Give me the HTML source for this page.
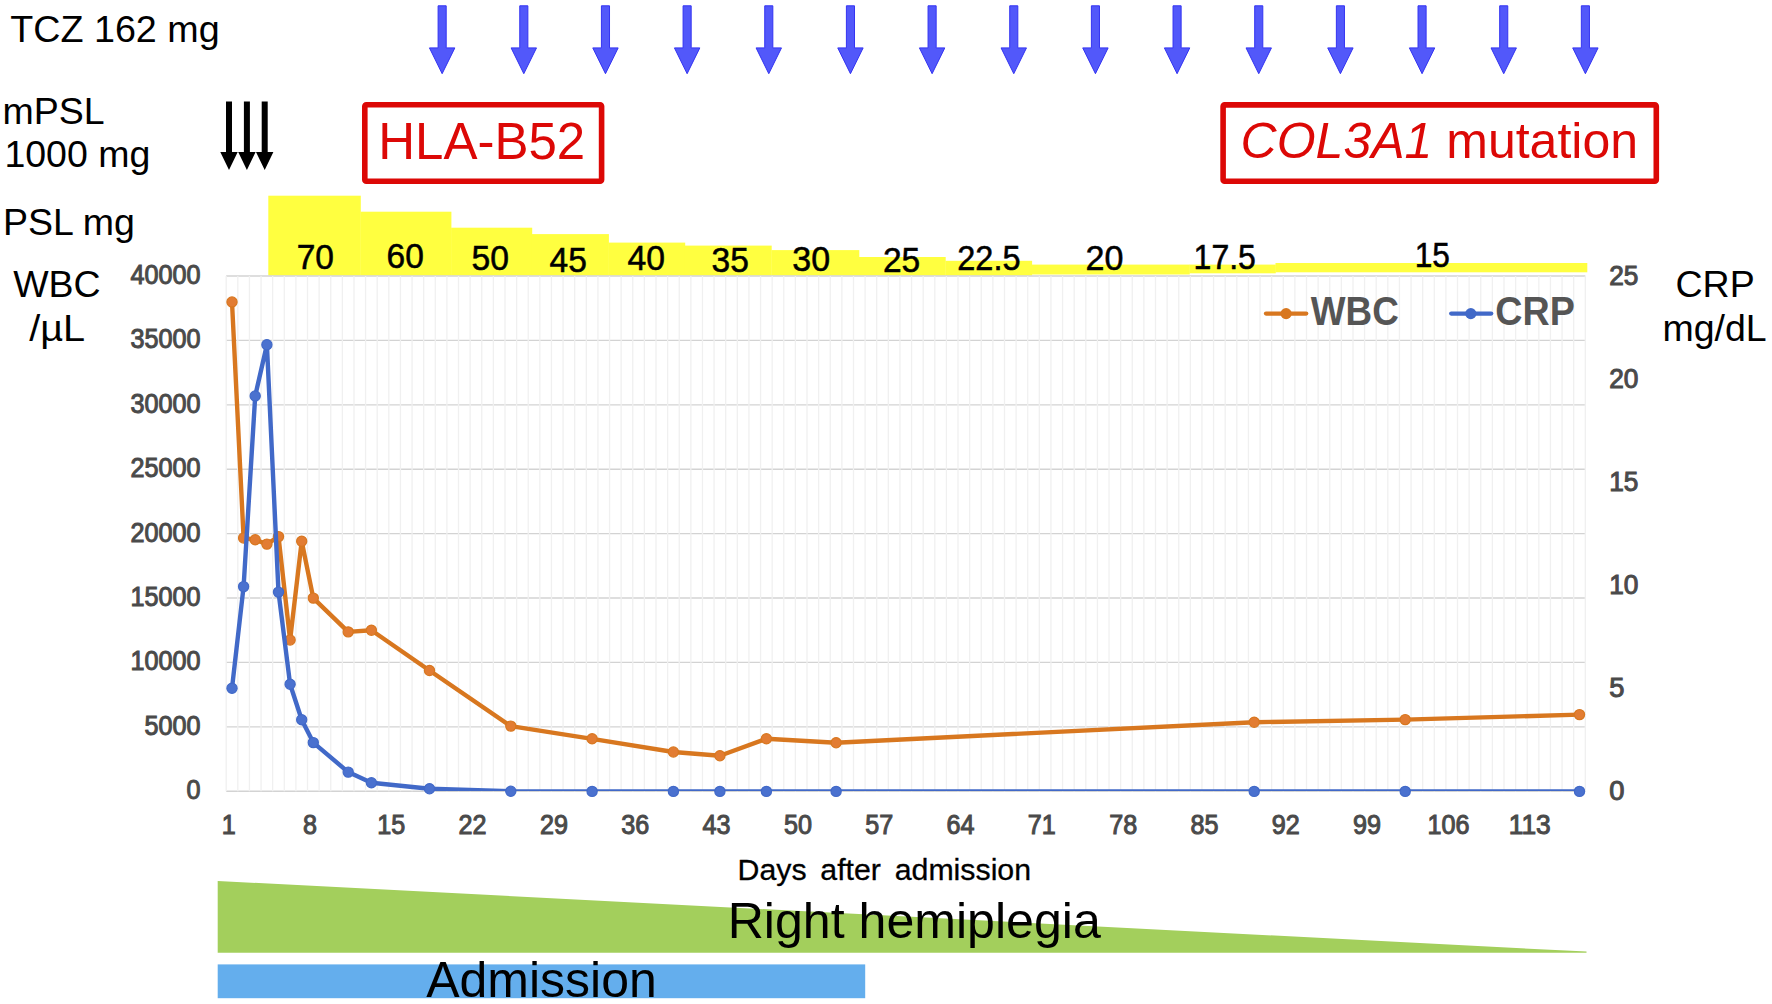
<!DOCTYPE html>
<html lang="en"><head><meta charset="utf-8"><title>Clinical course</title>
<style>html,body{margin:0;padding:0;background:#fff}body{width:1772px;height:1004px;overflow:hidden}svg{display:block}text{font-family:"Liberation Sans","Noto Sans CJK JP",sans-serif}.h{fill:#000}.tick{fill:#4a4a4a;stroke:#4a4a4a;stroke-width:1.05px;font-size:27px}.psl{fill:#000;font-size:35.2px;stroke:#000;stroke-width:.55px}.red{fill:#dc0806}</style></head><body>
<svg width="1772" height="1004" viewBox="0 0 1772 1004">
<rect width="1772" height="1004" fill="#fff"/>
<g fill="#5258fa" stroke="#3434f2" stroke-width="1" stroke-linejoin="miter">
<path d="M438.10 5.8H446.20V47.9H454.85L442.15 73.7L429.45 47.9H438.10Z"/>
<path d="M519.76 5.8H527.86V47.9H536.51L523.81 73.7L511.11 47.9H519.76Z"/>
<path d="M601.42 5.8H609.52V47.9H618.17L605.47 73.7L592.77 47.9H601.42Z"/>
<path d="M683.08 5.8H691.18V47.9H699.83L687.13 73.7L674.43 47.9H683.08Z"/>
<path d="M764.74 5.8H772.84V47.9H781.49L768.79 73.7L756.09 47.9H764.74Z"/>
<path d="M846.40 5.8H854.50V47.9H863.15L850.45 73.7L837.75 47.9H846.40Z"/>
<path d="M928.06 5.8H936.16V47.9H944.81L932.11 73.7L919.41 47.9H928.06Z"/>
<path d="M1009.72 5.8H1017.82V47.9H1026.47L1013.77 73.7L1001.07 47.9H1009.72Z"/>
<path d="M1091.38 5.8H1099.48V47.9H1108.13L1095.43 73.7L1082.73 47.9H1091.38Z"/>
<path d="M1173.04 5.8H1181.14V47.9H1189.79L1177.09 73.7L1164.39 47.9H1173.04Z"/>
<path d="M1254.70 5.8H1262.80V47.9H1271.45L1258.75 73.7L1246.05 47.9H1254.70Z"/>
<path d="M1336.36 5.8H1344.46V47.9H1353.11L1340.41 73.7L1327.71 47.9H1336.36Z"/>
<path d="M1418.02 5.8H1426.12V47.9H1434.77L1422.07 73.7L1409.37 47.9H1418.02Z"/>
<path d="M1499.68 5.8H1507.78V47.9H1516.43L1503.73 73.7L1491.03 47.9H1499.68Z"/>
<path d="M1581.34 5.8H1589.44V47.9H1598.09L1585.39 73.7L1572.69 47.9H1581.34Z"/>
</g>
<g fill="#000">
<path d="M226.0 101.4H232.0V152.1H237.7L229.0 170.1L220.3 152.1H226.0Z"/>
<path d="M243.9 101.4H249.9V152.1H255.6L246.9 170.1L238.2 152.1H243.9Z"/>
<path d="M261.7 101.4H267.7V152.1H273.4L264.7 170.1L256.0 152.1H261.7Z"/>
</g>
<text class="h" x="10.2" y="42" font-size="37.7">TCZ 162 mg</text>
<text class="h" x="2.6" y="123.9" font-size="37.5">mPSL</text>
<text class="h" x="4.4" y="167.3" font-size="37.5">1000 mg</text>
<text class="h" x="2.9" y="234.8" font-size="37.5">PSL mg</text>
<text class="h" x="13.2" y="297.4" font-size="37.5">WBC</text>
<text class="h" x="29.2" y="340.7" font-size="37.5" textLength="56" lengthAdjust="spacingAndGlyphs">/µL</text>
<text class="h" x="1675.5" y="297.3" font-size="37.5">CRP</text>
<text class="h" x="1662.4" y="340.7" font-size="37.5">mg/dL</text>
<rect x="364.8" y="104.8" width="236.8" height="76.4" rx="1.5" fill="none" stroke="#dc0806" stroke-width="5.6"/>
<text class="red" x="378.2" y="158.5" font-size="51">HLA-B52</text>
<rect x="1223.1" y="104.9" width="433.2" height="76.3" rx="1.5" fill="none" stroke="#dc0806" stroke-width="5.6"/>
<text class="red" x="1240.6" y="157.6" font-size="50"><tspan font-style="italic">COL3A1</tspan> mutation</text>
<g fill="#ffff40">
<rect x="268.3" y="195.7" width="92.5" height="79.9"/>
<rect x="360.5" y="211.7" width="90.9" height="63.9"/>
<rect x="451.1" y="227.7" width="81.1" height="47.9"/>
<rect x="531.9" y="234.1" width="77.0" height="41.5"/>
<rect x="608.6" y="242.6" width="76.6" height="33.0"/>
<rect x="684.9" y="245.6" width="86.8" height="30.0"/>
<rect x="771.4" y="250.1" width="87.9" height="25.5"/>
<rect x="859" y="257" width="86.7" height="18.6"/>
<rect x="945.4" y="260.8" width="86.7" height="14.8"/>
<rect x="1031.8" y="264.6" width="158.0" height="9.9"/>
<rect x="1189.5" y="264.6" width="86.3" height="8.7"/>
<rect x="1275.5" y="263" width="311.8" height="9.3"/>
</g>
<g stroke="#d3d3d3" stroke-width="1.35">
<line x1="226.2" y1="276.00" x2="1585.3" y2="276.00"/>
<line x1="226.2" y1="340.40" x2="1585.3" y2="340.40"/>
<line x1="226.2" y1="404.80" x2="1585.3" y2="404.80"/>
<line x1="226.2" y1="469.20" x2="1585.3" y2="469.20"/>
<line x1="226.2" y1="533.60" x2="1585.3" y2="533.60"/>
<line x1="226.2" y1="598.00" x2="1585.3" y2="598.00"/>
<line x1="226.2" y1="662.40" x2="1585.3" y2="662.40"/>
<line x1="226.2" y1="726.80" x2="1585.3" y2="726.80"/>
<line x1="226.2" y1="791.20" x2="1585.3" y2="791.20"/>
</g>
<g stroke="#f0f0f0" stroke-width="1.3">
<line x1="226.20" y1="276.0" x2="226.20" y2="791.2"/>
<line x1="237.82" y1="276.0" x2="237.82" y2="791.2"/>
<line x1="249.43" y1="276.0" x2="249.43" y2="791.2"/>
<line x1="261.05" y1="276.0" x2="261.05" y2="791.2"/>
<line x1="272.66" y1="276.0" x2="272.66" y2="791.2"/>
<line x1="284.28" y1="276.0" x2="284.28" y2="791.2"/>
<line x1="295.90" y1="276.0" x2="295.90" y2="791.2"/>
<line x1="307.51" y1="276.0" x2="307.51" y2="791.2"/>
<line x1="319.13" y1="276.0" x2="319.13" y2="791.2"/>
<line x1="330.75" y1="276.0" x2="330.75" y2="791.2"/>
<line x1="342.36" y1="276.0" x2="342.36" y2="791.2"/>
<line x1="353.98" y1="276.0" x2="353.98" y2="791.2"/>
<line x1="365.59" y1="276.0" x2="365.59" y2="791.2"/>
<line x1="377.21" y1="276.0" x2="377.21" y2="791.2"/>
<line x1="388.83" y1="276.0" x2="388.83" y2="791.2"/>
<line x1="400.44" y1="276.0" x2="400.44" y2="791.2"/>
<line x1="412.06" y1="276.0" x2="412.06" y2="791.2"/>
<line x1="423.68" y1="276.0" x2="423.68" y2="791.2"/>
<line x1="435.29" y1="276.0" x2="435.29" y2="791.2"/>
<line x1="446.91" y1="276.0" x2="446.91" y2="791.2"/>
<line x1="458.52" y1="276.0" x2="458.52" y2="791.2"/>
<line x1="470.14" y1="276.0" x2="470.14" y2="791.2"/>
<line x1="481.76" y1="276.0" x2="481.76" y2="791.2"/>
<line x1="493.37" y1="276.0" x2="493.37" y2="791.2"/>
<line x1="504.99" y1="276.0" x2="504.99" y2="791.2"/>
<line x1="516.61" y1="276.0" x2="516.61" y2="791.2"/>
<line x1="528.22" y1="276.0" x2="528.22" y2="791.2"/>
<line x1="539.84" y1="276.0" x2="539.84" y2="791.2"/>
<line x1="551.45" y1="276.0" x2="551.45" y2="791.2"/>
<line x1="563.07" y1="276.0" x2="563.07" y2="791.2"/>
<line x1="574.69" y1="276.0" x2="574.69" y2="791.2"/>
<line x1="586.30" y1="276.0" x2="586.30" y2="791.2"/>
<line x1="597.92" y1="276.0" x2="597.92" y2="791.2"/>
<line x1="609.54" y1="276.0" x2="609.54" y2="791.2"/>
<line x1="621.15" y1="276.0" x2="621.15" y2="791.2"/>
<line x1="632.77" y1="276.0" x2="632.77" y2="791.2"/>
<line x1="644.38" y1="276.0" x2="644.38" y2="791.2"/>
<line x1="656.00" y1="276.0" x2="656.00" y2="791.2"/>
<line x1="667.62" y1="276.0" x2="667.62" y2="791.2"/>
<line x1="679.23" y1="276.0" x2="679.23" y2="791.2"/>
<line x1="690.85" y1="276.0" x2="690.85" y2="791.2"/>
<line x1="702.47" y1="276.0" x2="702.47" y2="791.2"/>
<line x1="714.08" y1="276.0" x2="714.08" y2="791.2"/>
<line x1="725.70" y1="276.0" x2="725.70" y2="791.2"/>
<line x1="737.31" y1="276.0" x2="737.31" y2="791.2"/>
<line x1="748.93" y1="276.0" x2="748.93" y2="791.2"/>
<line x1="760.55" y1="276.0" x2="760.55" y2="791.2"/>
<line x1="772.16" y1="276.0" x2="772.16" y2="791.2"/>
<line x1="783.78" y1="276.0" x2="783.78" y2="791.2"/>
<line x1="795.40" y1="276.0" x2="795.40" y2="791.2"/>
<line x1="807.01" y1="276.0" x2="807.01" y2="791.2"/>
<line x1="818.63" y1="276.0" x2="818.63" y2="791.2"/>
<line x1="830.24" y1="276.0" x2="830.24" y2="791.2"/>
<line x1="841.86" y1="276.0" x2="841.86" y2="791.2"/>
<line x1="853.48" y1="276.0" x2="853.48" y2="791.2"/>
<line x1="865.09" y1="276.0" x2="865.09" y2="791.2"/>
<line x1="876.71" y1="276.0" x2="876.71" y2="791.2"/>
<line x1="888.33" y1="276.0" x2="888.33" y2="791.2"/>
<line x1="899.94" y1="276.0" x2="899.94" y2="791.2"/>
<line x1="911.56" y1="276.0" x2="911.56" y2="791.2"/>
<line x1="923.17" y1="276.0" x2="923.17" y2="791.2"/>
<line x1="934.79" y1="276.0" x2="934.79" y2="791.2"/>
<line x1="946.41" y1="276.0" x2="946.41" y2="791.2"/>
<line x1="958.02" y1="276.0" x2="958.02" y2="791.2"/>
<line x1="969.64" y1="276.0" x2="969.64" y2="791.2"/>
<line x1="981.26" y1="276.0" x2="981.26" y2="791.2"/>
<line x1="992.87" y1="276.0" x2="992.87" y2="791.2"/>
<line x1="1004.49" y1="276.0" x2="1004.49" y2="791.2"/>
<line x1="1016.10" y1="276.0" x2="1016.10" y2="791.2"/>
<line x1="1027.72" y1="276.0" x2="1027.72" y2="791.2"/>
<line x1="1039.34" y1="276.0" x2="1039.34" y2="791.2"/>
<line x1="1050.95" y1="276.0" x2="1050.95" y2="791.2"/>
<line x1="1062.57" y1="276.0" x2="1062.57" y2="791.2"/>
<line x1="1074.19" y1="276.0" x2="1074.19" y2="791.2"/>
<line x1="1085.80" y1="276.0" x2="1085.80" y2="791.2"/>
<line x1="1097.42" y1="276.0" x2="1097.42" y2="791.2"/>
<line x1="1109.03" y1="276.0" x2="1109.03" y2="791.2"/>
<line x1="1120.65" y1="276.0" x2="1120.65" y2="791.2"/>
<line x1="1132.27" y1="276.0" x2="1132.27" y2="791.2"/>
<line x1="1143.88" y1="276.0" x2="1143.88" y2="791.2"/>
<line x1="1155.50" y1="276.0" x2="1155.50" y2="791.2"/>
<line x1="1167.12" y1="276.0" x2="1167.12" y2="791.2"/>
<line x1="1178.73" y1="276.0" x2="1178.73" y2="791.2"/>
<line x1="1190.35" y1="276.0" x2="1190.35" y2="791.2"/>
<line x1="1201.96" y1="276.0" x2="1201.96" y2="791.2"/>
<line x1="1213.58" y1="276.0" x2="1213.58" y2="791.2"/>
<line x1="1225.20" y1="276.0" x2="1225.20" y2="791.2"/>
<line x1="1236.81" y1="276.0" x2="1236.81" y2="791.2"/>
<line x1="1248.43" y1="276.0" x2="1248.43" y2="791.2"/>
<line x1="1260.05" y1="276.0" x2="1260.05" y2="791.2"/>
<line x1="1271.66" y1="276.0" x2="1271.66" y2="791.2"/>
<line x1="1283.28" y1="276.0" x2="1283.28" y2="791.2"/>
<line x1="1294.89" y1="276.0" x2="1294.89" y2="791.2"/>
<line x1="1306.51" y1="276.0" x2="1306.51" y2="791.2"/>
<line x1="1318.13" y1="276.0" x2="1318.13" y2="791.2"/>
<line x1="1329.74" y1="276.0" x2="1329.74" y2="791.2"/>
<line x1="1341.36" y1="276.0" x2="1341.36" y2="791.2"/>
<line x1="1352.98" y1="276.0" x2="1352.98" y2="791.2"/>
<line x1="1364.59" y1="276.0" x2="1364.59" y2="791.2"/>
<line x1="1376.21" y1="276.0" x2="1376.21" y2="791.2"/>
<line x1="1387.82" y1="276.0" x2="1387.82" y2="791.2"/>
<line x1="1399.44" y1="276.0" x2="1399.44" y2="791.2"/>
<line x1="1411.06" y1="276.0" x2="1411.06" y2="791.2"/>
<line x1="1422.67" y1="276.0" x2="1422.67" y2="791.2"/>
<line x1="1434.29" y1="276.0" x2="1434.29" y2="791.2"/>
<line x1="1445.91" y1="276.0" x2="1445.91" y2="791.2"/>
<line x1="1457.52" y1="276.0" x2="1457.52" y2="791.2"/>
<line x1="1469.14" y1="276.0" x2="1469.14" y2="791.2"/>
<line x1="1480.75" y1="276.0" x2="1480.75" y2="791.2"/>
<line x1="1492.37" y1="276.0" x2="1492.37" y2="791.2"/>
<line x1="1503.99" y1="276.0" x2="1503.99" y2="791.2"/>
<line x1="1515.60" y1="276.0" x2="1515.60" y2="791.2"/>
<line x1="1527.22" y1="276.0" x2="1527.22" y2="791.2"/>
<line x1="1538.84" y1="276.0" x2="1538.84" y2="791.2"/>
<line x1="1550.45" y1="276.0" x2="1550.45" y2="791.2"/>
<line x1="1562.07" y1="276.0" x2="1562.07" y2="791.2"/>
<line x1="1573.68" y1="276.0" x2="1573.68" y2="791.2"/>
<line x1="1585.30" y1="276.0" x2="1585.30" y2="791.2"/>
</g>
<text class="psl" x="296.7" y="268.9" textLength="37.3" lengthAdjust="spacingAndGlyphs">70</text>
<text class="psl" x="386.5" y="267.5" textLength="37.3" lengthAdjust="spacingAndGlyphs">60</text>
<text class="psl" x="471.5" y="270.2" textLength="37.5" lengthAdjust="spacingAndGlyphs">50</text>
<text class="psl" x="549.5" y="272.2" textLength="37.3" lengthAdjust="spacingAndGlyphs">45</text>
<text class="psl" x="627.5" y="270.2" textLength="37.5" lengthAdjust="spacingAndGlyphs">40</text>
<text class="psl" x="711.5" y="272.2" textLength="37.3" lengthAdjust="spacingAndGlyphs">35</text>
<text class="psl" x="792.3" y="270.9" textLength="37.8" lengthAdjust="spacingAndGlyphs">30</text>
<text class="psl" x="882.9" y="272.2" textLength="37.3" lengthAdjust="spacingAndGlyphs">25</text>
<text class="psl" x="957.3" y="269.7" textLength="63.2" lengthAdjust="spacingAndGlyphs">22.5</text>
<text class="psl" x="1085.5" y="269.7" textLength="37.9" lengthAdjust="spacingAndGlyphs">20</text>
<text class="psl" x="1193.6" y="269.4" textLength="62.3" lengthAdjust="spacingAndGlyphs">17.5</text>
<text class="psl" x="1414.7" y="267.4" textLength="35.2" lengthAdjust="spacingAndGlyphs">15</text>
<text class="tick" x="130.6" y="283.9" textLength="70.0" lengthAdjust="spacingAndGlyphs">40000</text>
<text class="tick" x="130.6" y="348.3" textLength="70.0" lengthAdjust="spacingAndGlyphs">35000</text>
<text class="tick" x="130.6" y="412.7" textLength="70.0" lengthAdjust="spacingAndGlyphs">30000</text>
<text class="tick" x="130.6" y="477.1" textLength="70.0" lengthAdjust="spacingAndGlyphs">25000</text>
<text class="tick" x="130.6" y="541.5" textLength="70.0" lengthAdjust="spacingAndGlyphs">20000</text>
<text class="tick" x="130.6" y="605.9" textLength="70.0" lengthAdjust="spacingAndGlyphs">15000</text>
<text class="tick" x="130.6" y="670.3" textLength="70.0" lengthAdjust="spacingAndGlyphs">10000</text>
<text class="tick" x="144.6" y="734.7" textLength="56.0" lengthAdjust="spacingAndGlyphs">5000</text>
<text class="tick" x="186.6" y="799.1" textLength="14.0" lengthAdjust="spacingAndGlyphs">0</text>
<text class="tick" x="1609.2" y="284.5" textLength="29.2" lengthAdjust="spacingAndGlyphs">25</text>
<text class="tick" x="1609.2" y="387.5" textLength="29.2" lengthAdjust="spacingAndGlyphs">20</text>
<text class="tick" x="1609.2" y="490.6" textLength="29.2" lengthAdjust="spacingAndGlyphs">15</text>
<text class="tick" x="1609.2" y="593.6" textLength="29.2" lengthAdjust="spacingAndGlyphs">10</text>
<text class="tick" x="1609.2" y="696.7" textLength="15.2" lengthAdjust="spacingAndGlyphs">5</text>
<text class="tick" x="1609.2" y="799.7" textLength="15.2" lengthAdjust="spacingAndGlyphs">0</text>
<text class="tick" x="221.7" y="833.7" textLength="14.0" lengthAdjust="spacingAndGlyphs">1</text>
<text class="tick" x="303.0" y="833.7" textLength="14.0" lengthAdjust="spacingAndGlyphs">8</text>
<text class="tick" x="377.3" y="833.7" textLength="28.0" lengthAdjust="spacingAndGlyphs">15</text>
<text class="tick" x="458.6" y="833.7" textLength="28.0" lengthAdjust="spacingAndGlyphs">22</text>
<text class="tick" x="540.0" y="833.7" textLength="28.0" lengthAdjust="spacingAndGlyphs">29</text>
<text class="tick" x="621.3" y="833.7" textLength="28.0" lengthAdjust="spacingAndGlyphs">36</text>
<text class="tick" x="702.6" y="833.7" textLength="28.0" lengthAdjust="spacingAndGlyphs">43</text>
<text class="tick" x="783.9" y="833.7" textLength="28.0" lengthAdjust="spacingAndGlyphs">50</text>
<text class="tick" x="865.2" y="833.7" textLength="28.0" lengthAdjust="spacingAndGlyphs">57</text>
<text class="tick" x="946.5" y="833.7" textLength="28.0" lengthAdjust="spacingAndGlyphs">64</text>
<text class="tick" x="1027.8" y="833.7" textLength="28.0" lengthAdjust="spacingAndGlyphs">71</text>
<text class="tick" x="1109.2" y="833.7" textLength="28.0" lengthAdjust="spacingAndGlyphs">78</text>
<text class="tick" x="1190.5" y="833.7" textLength="28.0" lengthAdjust="spacingAndGlyphs">85</text>
<text class="tick" x="1271.8" y="833.7" textLength="28.0" lengthAdjust="spacingAndGlyphs">92</text>
<text class="tick" x="1353.1" y="833.7" textLength="28.0" lengthAdjust="spacingAndGlyphs">99</text>
<text class="tick" x="1427.4" y="833.7" textLength="42.0" lengthAdjust="spacingAndGlyphs">106</text>
<text class="tick" x="1508.7" y="833.7" textLength="42.0" lengthAdjust="spacingAndGlyphs">113</text>
<text class="h" x="737.6" y="879.8" font-size="30.3" style="stroke:#000;stroke-width:.3px;word-spacing:5.3px">Days after admission</text>
<clipPath id="pc"><rect x="216.2" y="276.0" width="1379.1" height="515.0"/></clipPath>
<polyline clip-path="url(#pc)" points="232.0,302.0 243.6,538.0 255.2,539.8 266.9,544.1 278.5,536.6 290.1,640.0 301.7,541.2 313.3,598.1 348.2,631.9 371.4,630.2 429.5,670.5 510.8,726.1 592.1,738.8 673.4,752.0 719.9,755.7 766.4,738.8 836.1,742.7 1254.2,722.2 1405.2,719.6 1579.5,714.6" fill="none" stroke="#d8771f" stroke-width="4.4" stroke-linejoin="round" stroke-linecap="round"/>
<g fill="#e27c32" stroke="#d8771f" stroke-width="1.2"><circle cx="232.0" cy="302.0" r="5.1"/><circle cx="243.6" cy="538.0" r="5.1"/><circle cx="255.2" cy="539.8" r="5.1"/><circle cx="266.9" cy="544.1" r="5.1"/><circle cx="278.5" cy="536.6" r="5.1"/><circle cx="290.1" cy="640.0" r="5.1"/><circle cx="301.7" cy="541.2" r="5.1"/><circle cx="313.3" cy="598.1" r="5.1"/><circle cx="348.2" cy="631.9" r="5.1"/><circle cx="371.4" cy="630.2" r="5.1"/><circle cx="429.5" cy="670.5" r="5.1"/><circle cx="510.8" cy="726.1" r="5.1"/><circle cx="592.1" cy="738.8" r="5.1"/><circle cx="673.4" cy="752.0" r="5.1"/><circle cx="719.9" cy="755.7" r="5.1"/><circle cx="766.4" cy="738.8" r="5.1"/><circle cx="836.1" cy="742.7" r="5.1"/><circle cx="1254.2" cy="722.2" r="5.1"/><circle cx="1405.2" cy="719.6" r="5.1"/><circle cx="1579.5" cy="714.6" r="5.1"/></g>
<polyline clip-path="url(#pc)" points="232.0,688.3 243.6,586.6 255.2,396.0 266.9,344.7 278.5,592.1 290.1,684.2 301.7,719.8 313.3,742.6 348.2,772.1 371.4,782.8 429.5,788.7 510.8,791.3 592.1,791.4 673.4,791.4 719.9,791.4 766.4,791.4 836.1,791.4 1254.2,791.4 1405.2,791.4 1579.5,791.4" fill="none" stroke="#4169c8" stroke-width="4.4" stroke-linejoin="round" stroke-linecap="round"/>
<g fill="#4a71cf" stroke="#4169c8" stroke-width="1.2"><circle cx="232.0" cy="688.3" r="5.1"/><circle cx="243.6" cy="586.6" r="5.1"/><circle cx="255.2" cy="396.0" r="5.1"/><circle cx="266.9" cy="344.7" r="5.1"/><circle cx="278.5" cy="592.1" r="5.1"/><circle cx="290.1" cy="684.2" r="5.1"/><circle cx="301.7" cy="719.8" r="5.1"/><circle cx="313.3" cy="742.6" r="5.1"/><circle cx="348.2" cy="772.1" r="5.1"/><circle cx="371.4" cy="782.8" r="5.1"/><circle cx="429.5" cy="788.7" r="5.1"/><circle cx="510.8" cy="791.3" r="5.1"/><circle cx="592.1" cy="791.4" r="5.1"/><circle cx="673.4" cy="791.4" r="5.1"/><circle cx="719.9" cy="791.4" r="5.1"/><circle cx="766.4" cy="791.4" r="5.1"/><circle cx="836.1" cy="791.4" r="5.1"/><circle cx="1254.2" cy="791.4" r="5.1"/><circle cx="1405.2" cy="791.4" r="5.1"/><circle cx="1579.5" cy="791.4" r="5.1"/></g>
<line x1="1266" y1="313.6" x2="1306.2" y2="313.6" stroke="#d8771f" stroke-width="4.3" stroke-linecap="round"/><circle cx="1286.1" cy="313.6" r="5.6" fill="#d8771f"/>
<text x="1310.8" y="325" font-size="40" textLength="88" lengthAdjust="spacingAndGlyphs" style="fill:#555;font-weight:bold">WBC</text>
<line x1="1451.2" y1="313.6" x2="1491.2" y2="313.6" stroke="#4169c8" stroke-width="4.3" stroke-linecap="round"/><circle cx="1470.8" cy="313.6" r="5.6" fill="#4169c8"/>
<text x="1495.3" y="325" font-size="40" textLength="79.5" lengthAdjust="spacingAndGlyphs" style="fill:#555;font-weight:bold">CRP</text>
<polygon points="217.7,881 1586.5,951.6 1586.5,952.8 217.7,952.8" fill="#a3cf5c"/>
<rect x="217.7" y="964.4" width="647.5" height="33.8" fill="#64aeed"/>
<text class="h" x="727.7" y="937.9" font-size="50.1">Right hemiplegia</text>
<text class="h" x="426.2" y="996.6" font-size="50">Admission</text>
</svg></body></html>
